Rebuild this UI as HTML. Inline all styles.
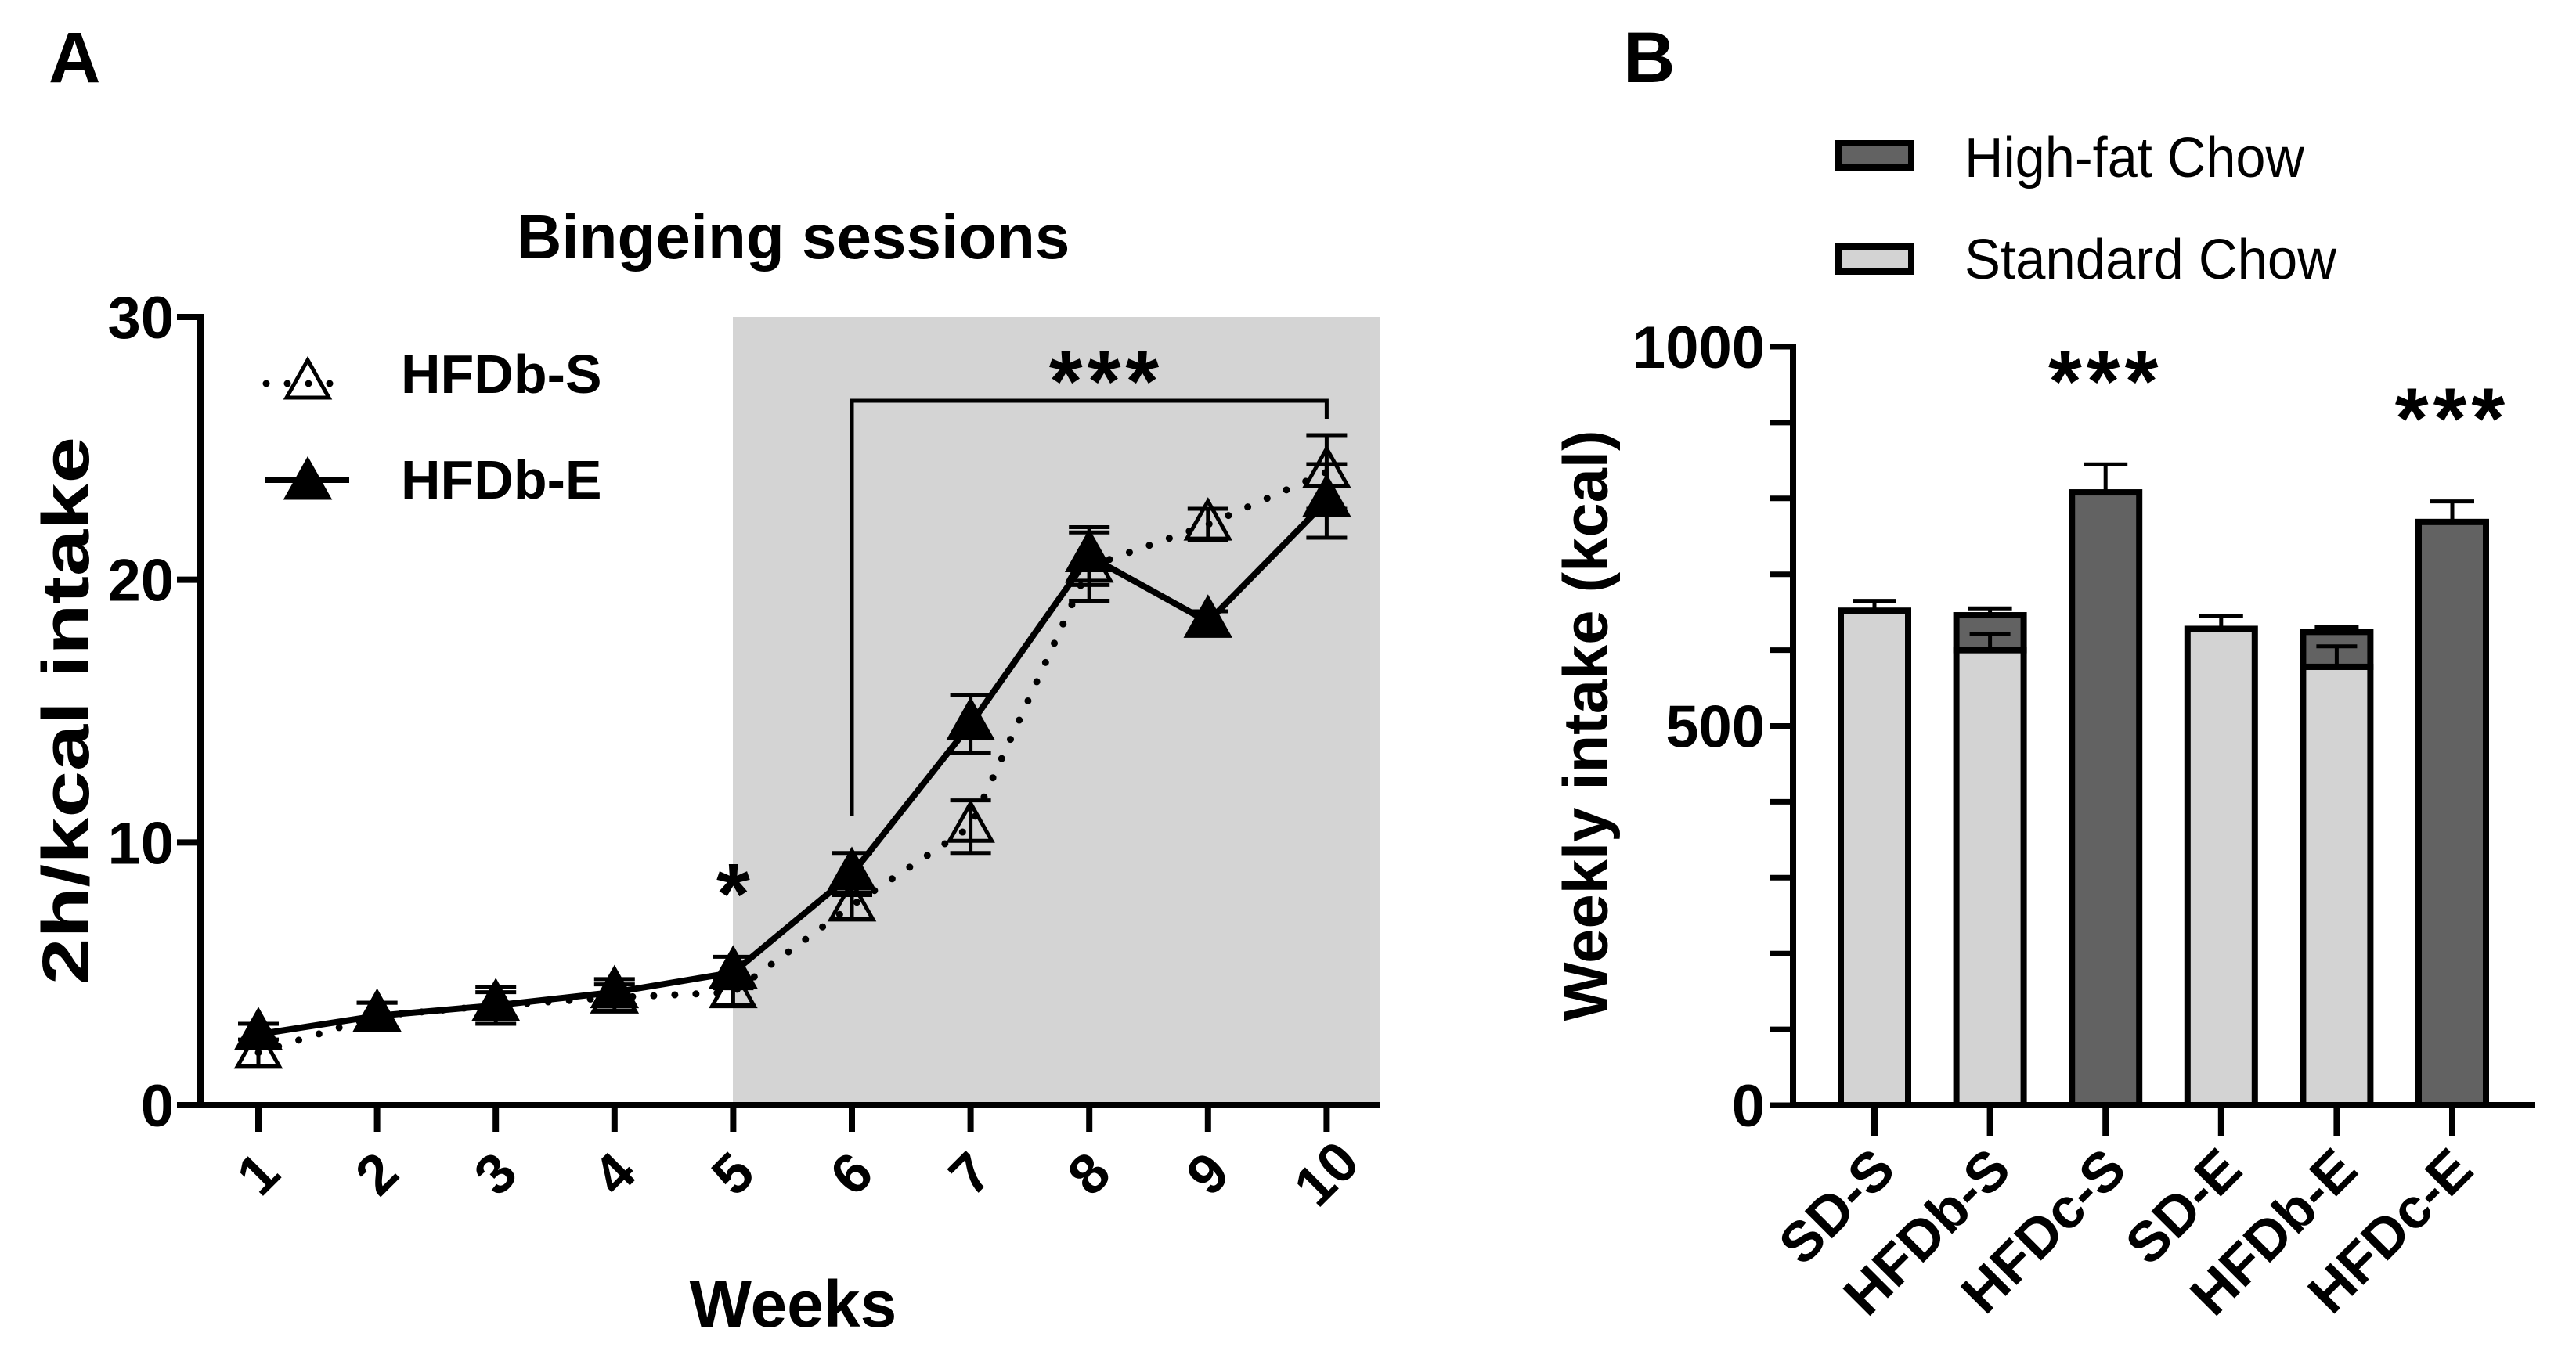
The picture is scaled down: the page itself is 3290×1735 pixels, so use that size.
<!DOCTYPE html>
<html><head><meta charset="utf-8">
<style>
html,body{margin:0;padding:0;background:#fff;}
svg{display:block;font-family:"Liberation Sans",Arial,sans-serif;}
</style></head>
<body>
<svg id="fig" width="3290" height="1735" viewBox="0 0 3290 1735" xmlns="http://www.w3.org/2000/svg">
<g id="panelA"></g>
<g id="panelB"></g>
</svg>
<script>
// ---------- Panel A data ----------
const weeks = [1,2,3,4,5,6,7,8,9,10];
const hfdbS = [2.0,3.4,3.8,4.1,4.3,7.6,10.6,20.5,22.1,24.1];
const hfdbSErr = [0.5,0.5,0.5,0.5,0.5,0.5,1.0,1.3,0.6,1.4];
const hfdbE = [2.7,3.4,3.8,4.3,5.05,8.8,14.5,20.9,18.4,23.0];
const hfdbEErr = [0.4,0.5,0.7,0.5,0.6,0.8,1.1,1.1,0.4,1.4];
const yTicksA = [0,10,20,30];
// ---------- Panel B data ----------
const groups = ["SD-S","HFDb-S","HFDc-S","SD-E","HFDb-E","HFDc-E"];
const standardChow = [652,600,0,628,578,0];
const standardErr = [13,21,0,17,27,0];
const highFatChow = [0,46,808,0,46,769];
const totalErr = [0,9,37,0,7,27];
const yTicksB = [0,500,1000];
const sigB = ["","","***","","","***"];

const NS="http://www.w3.org/2000/svg";
function mk(parent,tag,attrs,text){const e=document.createElementNS(NS,tag);for(const k in attrs)e.setAttribute(k,attrs[k]);if(text!==undefined)e.textContent=text;parent.appendChild(e);return e;}

// ----- Panel A -----
const A=document.getElementById('panelA');
const ax0=256, axEnd=1762, ay0=1412, ay30=405;
const xA=w=>330+(w-1)*151.6;
const yA=v=>ay0-(v/30)*(ay0-ay30);
let t;
t=mk(A,'rect',{x:936,y:yA(30),width:axEnd-936,height:ay0-yA(30),fill:'#d4d4d4'});


t=mk(A,'text',{x:62,y:105,'font-size':92,'font-weight':'bold'},'A');


t=mk(A,'text',{x:1013,y:330,'font-size':80,'font-weight':'bold','text-anchor':'middle'},'Bingeing sessions');


t=mk(A,'path',{d:`M${ax0} ${yA(30)-4} V${ay0} H${axEnd}`,stroke:'#000','stroke-width':8,fill:'none'});


yTicksA.forEach(v=>{
  const l=mk(A,'line',{x1:ax0-30,x2:ax0,y1:yA(v),y2:yA(v),stroke:'#000','stroke-width':8});
  
  
  const tx=mk(A,'text',{x:ax0-34,y:yA(v)+27,'font-size':76,'font-weight':'bold','text-anchor':'end'},String(v));
  
  
});
weeks.forEach(w=>{
  const l=mk(A,'line',{x1:xA(w),x2:xA(w),y1:ay0,y2:ay0+34,stroke:'#000','stroke-width':8});
  
  
  const tx=mk(A,'text',{x:xA(w),y:1500,'font-size':72,'font-weight':'bold','text-anchor':'middle','dominant-baseline':'central',transform:`rotate(-45 ${xA(w)} 1500)`},String(w));
  
  
});
t=mk(A,'text',{x:84,y:908,'font-size':84,'font-weight':'bold','text-anchor':'middle','dominant-baseline':'central',transform:'rotate(-90 84 908)',textLength:700,lengthAdjust:'spacingAndGlyphs'},'2h/kcal intake');


t=mk(A,'text',{x:1013,y:1695,'font-size':84,'font-weight':'bold','text-anchor':'middle'},'Weeks');


t=mk(A,'path',{d:`M${xA(6)} 1043 V512 H${xA(10)} V535`,stroke:'#000','stroke-width':5,fill:'none'});


t=mk(A,'text',{x:1413,y:525,'font-size':110,'font-weight':'bold','text-anchor':'middle','letter-spacing':6},'***');


t=mk(A,'text',{x:xA(5),y:1180,'font-size':110,'font-weight':'bold','text-anchor':'middle'},'*');


function tri(g,cx,cy,filled){return mk(g,'path',{d:`M${cx} ${cy-30} L${cx+27} ${cy+18} L${cx-27} ${cy+18} Z`,fill:filled?'#000':'none',stroke:'#000','stroke-width':5,'stroke-linejoin':'miter'});}
const gS=mk(A,'g',{});


t=mk(gS,'polyline',{points:weeks.map((w,i)=>`${xA(w)},${yA(hfdbS[i])}`).join(' '),fill:'none',stroke:'#000','stroke-width':9,'stroke-dasharray':'0 27','stroke-linecap':'round'});


weeks.forEach((w,i)=>{
  const x=xA(w),y=yA(hfdbS[i]),e=hfdbSErr[i]*(ay0-ay30)/30;
  const p=mk(gS,'path',{d:`M${x} ${y-e} V${y+e} M${x-26} ${y-e} H${x+26} M${x-26} ${y+e} H${x+26}`,stroke:'#000','stroke-width':5,fill:'none'});
  
  
  const m=tri(gS,x,y,false);
  
  
});
const gE=mk(A,'g',{});


t=mk(gE,'polyline',{points:weeks.map((w,i)=>`${xA(w)},${yA(hfdbE[i])}`).join(' '),fill:'none',stroke:'#000','stroke-width':8});


weeks.forEach((w,i)=>{
  const x=xA(w),y=yA(hfdbE[i]),e=hfdbEErr[i]*(ay0-ay30)/30;
  const p=mk(gE,'path',{d:`M${x} ${y-e} V${y+e} M${x-26} ${y-e} H${x+26} M${x-26} ${y+e} H${x+26}`,stroke:'#000','stroke-width':5,fill:'none'});
  
  
  const m=tri(gE,x,y,true);
  
  
});
const lgA=mk(A,'g',{});


t=mk(lgA,'line',{x1:340,x2:446,y1:490,y2:490,stroke:'#000','stroke-width':9,'stroke-dasharray':'0 27','stroke-linecap':'round'});


t=tri(lgA,393,490,false);


t=mk(lgA,'text',{x:512,y:502,'font-size':70,'font-weight':'bold'},'HFDb-S');


t=mk(lgA,'line',{x1:338,x2:446,y1:613,y2:613,stroke:'#000','stroke-width':8});


t=tri(lgA,393,618,true);


t=mk(lgA,'text',{x:512,y:637,'font-size':70,'font-weight':'bold'},'HFDb-E');



// ----- Panel B -----
const B=document.getElementById('panelB');
const bx0=2290, bxEnd=3238, by0=1412, by1000=443;
const yB=v=>by0-(v/1000)*(by0-by1000);
const xB=i=>2394+i*147.6;
const bw=86;
t=mk(B,'text',{x:2073,y:105,'font-size':92,'font-weight':'bold'},'B');


for(let v=0;v<=1000;v+=100){
  const l=mk(B,'line',{x1:bx0-30,x2:bx0,y1:yB(v),y2:yB(v),stroke:'#000','stroke-width':7});
  
  
}
yTicksB.forEach(v=>{
  const tx=mk(B,'text',{x:bx0-36,y:yB(v)+27,'font-size':76,'font-weight':'bold','text-anchor':'end'},String(v));
  
  
});
t=mk(B,'text',{x:2025,y:927,'font-size':80,'font-weight':'bold','text-anchor':'middle','dominant-baseline':'central',transform:'rotate(-90 2025 927)',textLength:755,lengthAdjust:'spacingAndGlyphs'},'Weekly intake (kcal)');


groups.forEach((g,i)=>{
  const cx=xB(i);
  const tot=standardChow[i]+highFatChow[i];
  const te=highFatChow[i]>0?totalErr[i]:standardErr[i];
  const pe=mk(B,'path',{d:`M${cx} ${yB(tot)} V${yB(tot+te)} M${cx-28} ${yB(tot+te)} H${cx+28}`,stroke:'#000','stroke-width':5,fill:'none'});
  
  
  if(standardChow[i]>0){
    const r=mk(B,'rect',{x:cx-bw/2,y:yB(standardChow[i]),width:bw,height:by0-yB(standardChow[i]),fill:'#d3d3d3',stroke:'#000','stroke-width':8});
    
    
  }
  if(highFatChow[i]>0){
    const r=mk(B,'rect',{x:cx-bw/2,y:yB(tot),width:bw,height:yB(standardChow[i])-yB(tot),fill:'#626262',stroke:'#000','stroke-width':8});
    
    
  }
  if(standardChow[i]>0 && highFatChow[i]>0){
    const ys=yB(standardChow[i]);
    const p=mk(B,'path',{d:`M${cx} ${ys} V${yB(standardChow[i]+standardErr[i])} M${cx-26} ${yB(standardChow[i]+standardErr[i])} H${cx+26}`,stroke:'#000','stroke-width':5,fill:'none'});
    
    
  }
  const l=mk(B,'line',{x1:cx,x2:cx,y1:by0,y2:by0+40,stroke:'#000','stroke-width':8});
  
  
  const px=cx+30, py=1498;
  const tx=mk(B,'text',{x:px,y:py,'font-size':72,'font-weight':'bold','text-anchor':'end',transform:`rotate(-45 ${px} ${py})`},g);
  
  
  if(sigB[i]){
    const s=mk(B,'text',{x:cx,y:yB(tot+te)-68,'font-size':110,'font-weight':'bold','text-anchor':'middle','letter-spacing':6},sigB[i]);
    
    
  }
});
t=mk(B,'path',{d:`M${bx0} ${by1000-4} V${by0} H${bxEnd}`,stroke:'#000','stroke-width':8,fill:'none'});


const lgB=mk(B,'g',{});


t=mk(lgB,'rect',{x:2348,y:183,width:93,height:31,fill:'#626262',stroke:'#000','stroke-width':8});


t=mk(lgB,'text',{x:2509,y:226,'font-size':72,textLength:434,lengthAdjust:'spacingAndGlyphs'},'High-fat Chow');


t=mk(lgB,'rect',{x:2348,y:315,width:93,height:32,fill:'#d3d3d3',stroke:'#000','stroke-width':8});


t=mk(lgB,'text',{x:2509,y:356,'font-size':72,textLength:475,lengthAdjust:'spacingAndGlyphs'},'Standard Chow');


</script>
</body></html>
